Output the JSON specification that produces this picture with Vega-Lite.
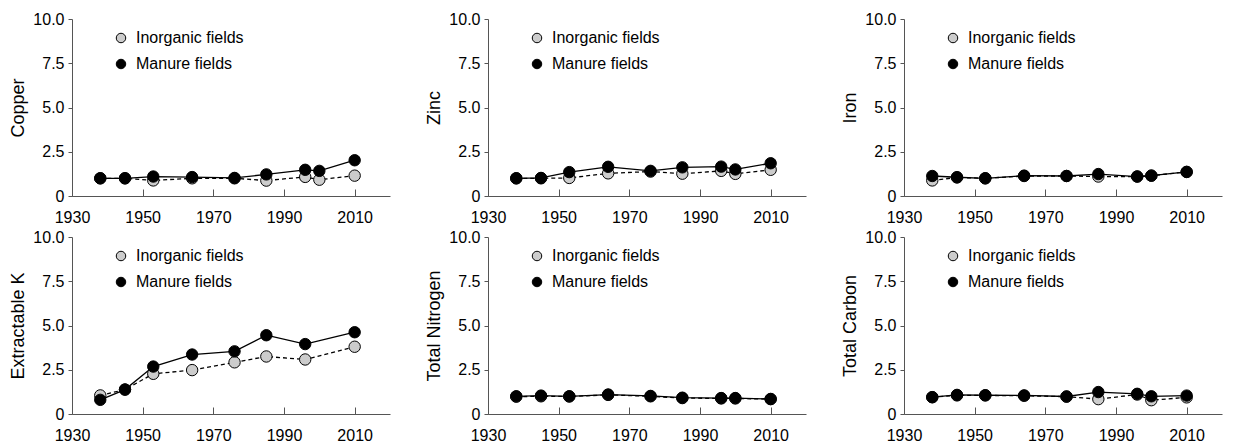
{
  "$schema": "https://vega.github.io/schema/vega-lite/v6.json",
  "padding": {"left": 9, "top": 11, "right": 5, "bottom": 5},
  "background": "white",
  "config": {
    "font": "Liberation Sans",
    "view": {"stroke": null},
    "axis": {"grid": false, "domainColor": "#555555", "tickColor": "#555555", "labelColor": "#000000", "titleColor": "#000000", "labelFontSize": 16, "titleFontSize": 18, "titleFontWeight": "normal"}
  },
  "data": {"values": [
    {"year": 1938, "treatment": "Inorganic fields", "Copper": 1.0, "Zinc": 1.0, "Iron": 0.88, "Extractable K": 1.05, "Total Nitrogen": 0.98, "Total Carbon": 0.95},
    {"year": 1945, "treatment": "Inorganic fields", "Copper": 1.0, "Zinc": 1.0, "Iron": 1.05, "Extractable K": 1.38, "Total Nitrogen": 1.0, "Total Carbon": 1.05},
    {"year": 1953, "treatment": "Inorganic fields", "Copper": 0.88, "Zinc": 1.02, "Iron": 1.0, "Extractable K": 2.27, "Total Nitrogen": 0.99, "Total Carbon": 1.05},
    {"year": 1964, "treatment": "Inorganic fields", "Copper": 1.0, "Zinc": 1.28, "Iron": 1.13, "Extractable K": 2.48, "Total Nitrogen": 1.08, "Total Carbon": 1.03},
    {"year": 1976, "treatment": "Inorganic fields", "Copper": 1.0, "Zinc": 1.38, "Iron": 1.13, "Extractable K": 2.92, "Total Nitrogen": 1.0, "Total Carbon": 0.98},
    {"year": 1985, "treatment": "Inorganic fields", "Copper": 0.87, "Zinc": 1.26, "Iron": 1.1, "Extractable K": 3.25, "Total Nitrogen": 0.9, "Total Carbon": 0.84},
    {"year": 1996, "treatment": "Inorganic fields", "Copper": 1.08, "Zinc": 1.42, "Iron": 1.1, "Extractable K": 3.08, "Total Nitrogen": 0.88, "Total Carbon": 1.1},
    {"year": 2000, "treatment": "Inorganic fields", "Copper": 0.92, "Zinc": 1.25, "Iron": 1.15, "Extractable K": null, "Total Nitrogen": 0.88, "Total Carbon": 0.78},
    {"year": 2010, "treatment": "Inorganic fields", "Copper": 1.15, "Zinc": 1.48, "Iron": 1.36, "Extractable K": 3.8, "Total Nitrogen": 0.84, "Total Carbon": 0.94},
    {"year": 1938, "treatment": "Manure fields", "Copper": 1.0, "Zinc": 1.0, "Iron": 1.13, "Extractable K": 0.8, "Total Nitrogen": 1.0, "Total Carbon": 0.95},
    {"year": 1945, "treatment": "Manure fields", "Copper": 1.0, "Zinc": 1.02, "Iron": 1.06, "Extractable K": 1.38, "Total Nitrogen": 1.04, "Total Carbon": 1.08},
    {"year": 1953, "treatment": "Manure fields", "Copper": 1.1, "Zinc": 1.35, "Iron": 1.0, "Extractable K": 2.68, "Total Nitrogen": 1.0, "Total Carbon": 1.06},
    {"year": 1964, "treatment": "Manure fields", "Copper": 1.07, "Zinc": 1.65, "Iron": 1.15, "Extractable K": 3.36, "Total Nitrogen": 1.1, "Total Carbon": 1.05},
    {"year": 1976, "treatment": "Manure fields", "Copper": 1.02, "Zinc": 1.42, "Iron": 1.13, "Extractable K": 3.54, "Total Nitrogen": 1.02, "Total Carbon": 0.99},
    {"year": 1985, "treatment": "Manure fields", "Copper": 1.22, "Zinc": 1.62, "Iron": 1.24, "Extractable K": 4.45, "Total Nitrogen": 0.92, "Total Carbon": 1.24},
    {"year": 1996, "treatment": "Manure fields", "Copper": 1.48, "Zinc": 1.66, "Iron": 1.1, "Extractable K": 3.95, "Total Nitrogen": 0.9, "Total Carbon": 1.14},
    {"year": 2000, "treatment": "Manure fields", "Copper": 1.42, "Zinc": 1.5, "Iron": 1.15, "Extractable K": null, "Total Nitrogen": 0.9, "Total Carbon": 1.0},
    {"year": 2010, "treatment": "Manure fields", "Copper": 2.02, "Zinc": 1.85, "Iron": 1.36, "Extractable K": 4.62, "Total Nitrogen": 0.85, "Total Carbon": 1.04}
  ]},
  "repeat": ["Copper", "Zinc", "Iron", "Extractable K", "Total Nitrogen", "Total Carbon"],
  "columns": 3,
  "spacing": {"row": 4, "column": 35},
  "spec": {
    "width": 318,
    "height": 177,
    "layer": [
      {"transform": [{"filter": "datum.treatment == 'Inorganic fields'"}],
       "mark": {"type": "line", "color": "black", "strokeWidth": 1.3, "strokeDash": [4, 3], "invalid": "filter"},
       "encoding": {
         "x": {"field": "year", "type": "quantitative", "scale": {"domain": [1930, 2020], "nice": false},
               "axis": {"title": null, "values": [1930, 1950, 1970, 1990, 2010], "format": "d", "tickSize": -7, "labelPadding": 20, "labelFlush": false, "labelOverlap": false}},
         "y": {"field": {"repeat": "repeat"}, "type": "quantitative", "scale": {"domain": [0, 10], "nice": false},
               "axis": {"values": [0, 2.5, 5, 7.5, 10], "labelExpr": "datum.value == 0 ? '0' : format(datum.value, '.1f')", "tickSize": 4, "labelPadding": 4, "titlePadding": 5}}}},
      {"transform": [{"filter": "datum.treatment == 'Manure fields'"}],
       "mark": {"type": "line", "color": "black", "strokeWidth": 1.3, "invalid": "filter"},
       "encoding": {
         "x": {"field": "year", "type": "quantitative"},
         "y": {"field": {"repeat": "repeat"}, "type": "quantitative"}}},
      {"mark": {"type": "circle", "stroke": "black", "strokeWidth": 1, "size": 130, "opacity": 1},
       "encoding": {
         "x": {"field": "year", "type": "quantitative"},
         "y": {"field": {"repeat": "repeat"}, "type": "quantitative"},
         "fill": {"field": "treatment", "type": "nominal", "scale": {"domain": ["Inorganic fields", "Manure fields"], "range": ["#cccccc", "#000000"]},
         "legend": {"title": null, "orient": "none", "legendX": 41, "legendY": 11, "labelFontSize": 16, "symbolType": "circle", "symbolSize": 90, "symbolStrokeColor": "black", "symbolStrokeWidth": 1, "symbolOpacity": 1, "rowPadding": 10, "labelOffset": 7}}}}
    ]
  },
  "resolve": {"scale": {"fill": "independent"}, "legend": {"fill": "independent"}}
}
